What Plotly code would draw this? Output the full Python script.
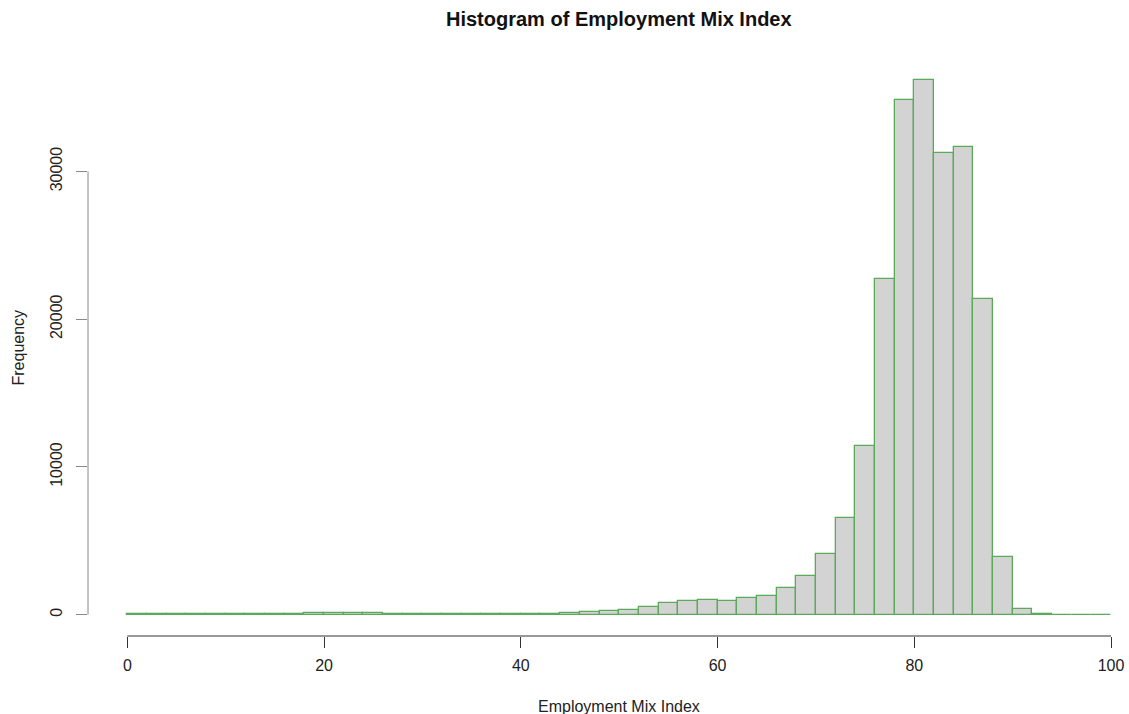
import plotly.graph_objects as go

bin_edges = list(range(0, 101, 2))
counts = [10, 15, 20, 30, 35, 45, 50, 60, 60, 80,
          90, 80, 90, 70, 50, 40, 40, 40, 40, 50,
          60, 60, 80, 150, 250, 330, 500, 790, 900, 990,
          930, 1100, 1290, 1830, 2600, 4130, 6570, 11440, 22700, 34870,
          36170, 31260, 31640, 21370, 3900, 400, 30, 8, 4, 3]
x_ticks = [0, 20, 40, 60, 80, 100]
y_ticks = [0, 10000, 20000, 30000]
title = "Histogram of Employment Mix Index"
x_label = "Employment Mix Index"
y_label = "Frequency"

centers = [(bin_edges[i] + bin_edges[i + 1]) / 2 for i in range(len(counts))]
widths = [bin_edges[i + 1] - bin_edges[i] for i in range(len(counts))]

FONT = "Liberation Sans, Arial, Helvetica, sans-serif"

fig = go.Figure()
fig.add_trace(go.Bar(
    x=centers, y=counts, width=widths,
    marker=dict(color="#d3d3d3", line=dict(color="rgb(90,170,90)", width=1.3)),
    hoverinfo="x+y",
))

ymax = max(counts)
yr = [-0.04 * ymax, 1.04 * ymax]

fig.update_layout(
    width=1129, height=714,
    margin=dict(l=88, r=0, t=59, b=78),
    paper_bgcolor="white", plot_bgcolor="white",
    showlegend=False,
    bargap=0,
    font=dict(family=FONT, size=16, color="#222"),
    xaxis=dict(range=[-4, 101.83], showgrid=False, zeroline=False, showline=False,
               tickvals=x_ticks, ticktext=[str(v) for v in x_ticks],
               ticks="outside", ticklen=11, tickcolor="#333", tickwidth=1,
               ticklabelstandoff=4,
               tickfont=dict(size=16, color="#222")),
    yaxis=dict(range=yr, showgrid=False, zeroline=False, showline=False,
               tickvals=y_ticks, ticktext=[str(v) for v in y_ticks],
               ticks="outside", ticklen=11, tickcolor="#888", tickwidth=1,
               ticklabelstandoff=8,
               tickangle=-90, tickfont=dict(size=16, color="#222")),
    shapes=[
        dict(type="line", xref="x", yref="paper", x0=x_ticks[0], x1=x_ticks[-1], y0=0, y1=0,
             line=dict(color="#333", width=1)),
        dict(type="line", xref="paper", yref="y", x0=0, x1=0, y0=y_ticks[0], y1=y_ticks[-1],
             line=dict(color="#888", width=1)),
    ],
    annotations=[
        dict(text="<b>" + title + "</b>", xref="x", yref="paper", x=50, y=1 + 40 / 577,
             showarrow=False, font=dict(size=20, color="#111"), xanchor="center", yanchor="middle"),
        dict(text=x_label, xref="x", yref="paper", x=50, y=-70 / 577,
             showarrow=False, font=dict(size=16, color="#222"), xanchor="center", yanchor="middle"),
        dict(text=y_label, xref="paper", yref="paper", x=-70 / 1041, y=0.5, textangle=-90,
             showarrow=False, font=dict(size=16, color="#222"), xanchor="center", yanchor="middle"),
    ],
)

fig.write_html("out.html")
